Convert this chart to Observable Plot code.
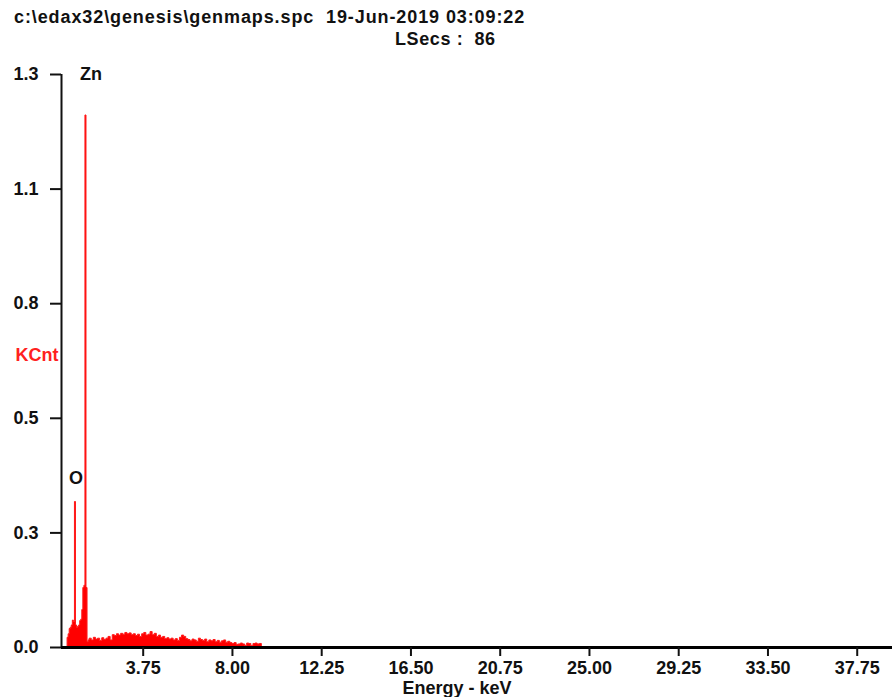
<!DOCTYPE html>
<html><head><meta charset="utf-8">
<script src="https://cdn.jsdelivr.net/npm/d3@7"></script>
<script src="https://cdn.jsdelivr.net/npm/@observablehq/plot@0.6"></script>
<style>
body{margin:0;background:#fff;font-family:"Liberation Sans",Arial,sans-serif;}
#wrap{position:relative;width:892px;height:697px;overflow:hidden;}
#hdr{position:relative;height:50px;font-weight:bold;font-size:18px;color:#111;}
#l1{position:absolute;left:14px;top:7px;white-space:pre;letter-spacing:0.9px;}
#l2{position:absolute;left:395px;top:29px;white-space:pre;letter-spacing:0.6px;}
</style></head><body>
<div id="wrap"><div id="hdr"><div id="l1"></div><div id="l2"></div></div><div id="chart"></div></div>
<script>
// Header texts
const headerLine1 = "c:\\edax32\\genesis\\genmaps.spc  19-Jun-2019 03:09:22";
const headerLine2 = "LSecs :  86";

// Spectrum: energy (keV) and counts (KCnt)
const energyKeV = [
  0.10,0.15,0.20,0.25,0.30,0.35,0.40,0.45,0.50,0.55,0.60,0.65,0.70,0.75,0.80,0.85,0.90,0.95,1.00,1.05,1.10,1.15,
  1.2,1.3,1.4,1.5,1.6,1.7,1.8,1.9,2.0,2.1,2.2,2.3,2.4,2.5,2.6,2.7,2.8,2.9,3.0,3.1,3.2,3.3,3.4,3.5,3.6,3.7,3.8,3.9,
  4.0,4.1,4.2,4.3,4.4,4.5,4.6,4.7,4.8,4.9,5.0,5.1,5.2,5.3,5.4,5.5,5.6,5.7,5.8,5.9,6.0,6.1,6.2,6.3,6.4,6.5,6.6,6.7,
  6.8,6.9,7.0,7.1,7.2,7.3,7.4,7.5,7.6,7.7,7.8,7.9,8.0,8.1,8.2,8.3,8.4,8.5,8.6,8.7,8.8,8.9,9.0,9.1,9.2,9.3,9.4
];
const kcnt = [
  0.0,0.022,0.030,0.042,0.045,0.050,0.061,0.058,0.330,0.050,0.045,0.047,0.050,0.060,0.063,0.085,0.135,0.140,1.207,0.135,0.012,0.016,
  0.020,0.016,0.022,0.018,0.020,0.015,0.021,0.017,0.020,0.024,0.016,0.028,0.026,0.030,0.027,0.031,0.029,0.033,0.030,0.032,0.028,0.030,0.026,0.029,0.024,0.030,0.033,0.027,
  0.029,0.035,0.028,0.031,0.024,0.027,0.022,0.024,0.019,0.021,0.018,0.020,0.016,0.019,0.015,0.022,0.027,0.024,0.019,0.017,0.014,0.018,0.016,0.013,0.020,0.017,0.015,0.018,
  0.012,0.016,0.014,0.017,0.012,0.015,0.011,0.014,0.016,0.011,0.013,0.010,0.008,0.010,0.006,0.007,0.009,0.007,0.004,0.009,0.008,0.003,0.008,0.009,0.007,0.008,0.0
];

// Peak labels
const peakLabels = ["O", "Zn"];
const peakLabelKeV = [0.55, 1.26];
const peakLabelKCnt = [0.383, 1.3];

// Axes
const xTickValues = [3.75, 8.00, 12.25, 16.50, 20.75, 25.00, 29.25, 33.50, 37.75];
const yTickValues = [0, 0.26, 0.52, 0.78, 1.04, 1.3];
const yTickLabels = ["0.0", "0.3", "0.5", "0.8", "1.1", "1.3"];
const xDomain = [-0.14, 39.43];
const yDomain = [0, 1.3];

document.getElementById("l1").textContent = headerLine1;
document.getElementById("l2").textContent = headerLine2;

const spectrum = energyKeV.map((e, i) => ({e, c: kcnt[i]}));
const peaks = peakLabels.map((t, i) => ({t, e: peakLabelKeV[i], c: peakLabelKCnt[i]}));
const yLabelMap = new Map(yTickValues.map((v, i) => [v, yTickLabels[i]]));

const ink = "#111";
const chart = Plot.plot({
  width: 892, height: 647,
  marginLeft: 61, marginRight: 0, marginTop: 24, marginBottom: 50,
  style: {fontFamily: "'Liberation Sans', Arial, sans-serif", fontSize: "18px", fontWeight: "bold", color: ink, background: "#fff", overflow: "visible"},
  x: {domain: xDomain},
  y: {domain: yDomain},
  marks: [
    Plot.areaY(spectrum, {x: "e", y: "c", curve: "step-after", fill: "#ff0000", stroke: "#ff1a1a", strokeWidth: 1}),
    Plot.ruleX([xDomain[0]], {y1: yDomain[0], y2: yDomain[1], stroke: ink, strokeWidth: 2}),
    Plot.ruleY([0], {stroke: "#000", strokeWidth: 3}),
    Plot.axisX({ticks: xTickValues, tickFormat: d => d.toFixed(2), tickSize: 9, tickPadding: 5, strokeWidth: 2, label: null}),
    Plot.axisY({ticks: yTickValues, tickFormat: d => yLabelMap.get(d), tickSize: 11, tickPadding: 12, strokeWidth: 2, label: null}),
    Plot.text(peaks, {x: "e", y: "c", text: "t", fill: ink, fontSize: 18, fontWeight: "bold", letterSpacing: "0.8px"}),
    Plot.text(["Energy - keV"], {frameAnchor: "bottom", dx: -20, dy: 46, fill: ink, fontSize: 18, fontWeight: "bold", letterSpacing: "0.75px"}),
    Plot.text(["KCnt"], {frameAnchor: "left", textAnchor: "end", dx: -3, dy: -6, fill: "#ff2020", fontSize: 18, fontWeight: "bold", letterSpacing: "0.8px"})
  ]
});
document.getElementById("chart").appendChild(chart);
</script>
</body></html>
